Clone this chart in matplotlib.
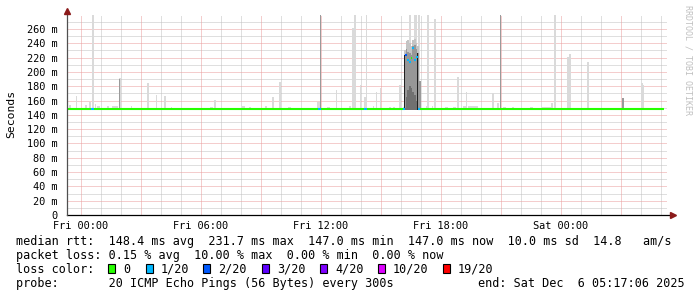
import numpy as np
import matplotlib
matplotlib.use("Agg")
from matplotlib import pyplot as plt
from matplotlib.patches import Rectangle

W, H = 697, 297

# time axis: hours since Fri 00:00, window ends Sat 05:17
t_start, t_end = -0.70, 29.30
tick_hours = [0, 6, 12, 18, 24]
tick_names = ["Fri 00:00", "Fri 06:00", "Fri 12:00", "Fri 18:00", "Sat 00:00"]

# smoke: highest ping per 5 min slot (light gray)
smoke_start = [-0.60, -0.25, 0.20, 0.40, 0.55, 0.70, 0.80, 1.30, 1.55, 1.90, 2.50, 3.30,
               3.75, 4.15, 4.50, 6.45, 6.65, 8.05, 8.40, 9.20, 9.55, 9.90, 10.35, 11.35,
               11.80, 12.30, 12.75, 13.40, 13.55, 13.65, 13.95, 14.15, 14.25, 14.60, 14.75,
               14.95, 15.40, 15.60, 15.90, 16.10, 16.40, 16.65, 16.85, 17.25, 17.30, 17.55,
               17.65, 18.20, 18.60, 18.80, 19.10, 19.25, 19.35, 20.55, 20.80, 21.10, 21.55,
               22.45, 23.05, 23.50, 23.65, 24.30, 24.40, 25.30, 28.00, 28.10]
smoke_end = [-0.50, -0.20, 0.30, 0.50, 0.65, 0.75, 0.95, 1.40, 1.85, 2.00, 2.55, 3.40,
             3.80, 4.25, 4.55, 6.60, 6.75, 8.20, 8.50, 9.30, 9.65, 10.00, 10.50, 11.45,
             11.95, 12.45, 12.80, 13.50, 13.65, 13.75, 14.00, 14.25, 14.30, 14.65, 14.80,
             15.00, 15.50, 15.70, 16.00, 16.15, 16.50, 16.80, 16.95, 17.35, 17.40, 17.60,
             17.75, 18.35, 18.75, 18.90, 19.25, 19.30, 19.85, 20.65, 20.90, 21.25, 21.65,
             22.60, 23.55, 23.60, 23.75, 24.40, 24.50, 25.40, 28.10, 28.15]
smoke_top = [154, 167, 154, 158, 280, 155, 152, 153, 153, 192, 153, 184,
             168, 166, 151, 151, 161, 153, 151, 153, 165, 186, 151, 150,
             158, 151, 175, 153, 261, 280, 182, 165, 280, 153, 172,
             177, 151, 151, 182, 151, 280, 280, 280, 153, 280, 152,
             274, 151, 151, 193, 153, 172, 152, 170, 156, 151, 151,
             151, 151, 157, 280, 221, 225, 214, 184, 182]

# slots where many pings were high (darker smoke)
dense_start = [1.92, 11.95, 16.90, 20.95, 27.05]
dense_end = [1.97, 12.00, 17.00, 21.00, 27.15]
dense_top = [190, 280, 188, 280, 163]

# the slow period Fri ~16:10 - 16:55
burst_t = [16.15, 16.23, 16.32, 16.40, 16.48, 16.57, 16.65, 16.73, 16.82]
burst_max = [230, 243, 245, 240, 236, 244, 246, 240, 236]
burst_hi = [224, 232, 228, 226, 224, 236, 238, 232, 226]
burst_lo = [150, 165, 175, 180, 178, 172, 168, 160, 150]

# median rtt (ms) per segment and loss class index
med_start = [-0.70, 0.50, 0.65, 11.85, 12.00, 14.15, 14.30, 16.10, 16.20, 16.30,
             16.40, 16.48, 16.55, 16.65, 16.75, 16.83, 16.95]
med_end = [0.50, 0.65, 11.85, 12.00, 14.15, 14.30, 16.10, 16.20, 16.30, 16.40,
           16.48, 16.55, 16.65, 16.75, 16.83, 16.95, 29.15]
med_value = [147.5, 147.5, 147.5, 147.5, 147.5, 147.5, 147.5, 147.5, 224, 217,
             214, 219, 233, 217, 221, 147.5, 147.5]
med_loss = [0, 1, 0, 1, 0, 1, 0, 1, 2, 1, 1, 0, 1, 1, 1, 1, 0]

loss_names = ["0", "1/20", "2/20", "3/20", "4/20", "10/20", "19/20"]
loss_colors = ["#26ff00", "#00b8ff", "#0059ff", "#5e00ff", "#7e00ff", "#dd00ff", "#ff0000"]

stats_rtt = "median rtt:  148.4 ms avg  231.7 ms max  147.0 ms min  147.0 ms now  10.0 ms sd  14.8   am/s"
stats_loss = "packet loss: 0.15 % avg  10.00 % max  0.00 % min  0.00 % now"
probe_txt = "probe:       20 ICMP Echo Pings (56 Bytes) every 300s"
end_txt = "end: Sat Dec  6 05:17:06 2025"

plt.rcParams['font.family'] = ['DejaVu Sans Mono']

def fx(px):
    return px / W

def fy(py):
    return 1 - py / H

fig = plt.figure(figsize=(W / 100, H / 100), dpi=100)
ax = fig.add_axes([fx(67), fy(215), 600 / W, 200.3 / H])
ax.set_xlim(t_start, t_end)
ax.set_ylim(0, 280)

# grid, dotted
minor_col = '#c0c0c0'
major_col = '#eb9c9c'
dots = (0, (1, 1))
gkw = dict(lw=0.72, ls=dots, zorder=0)
for h in range(0, 30):
    if h % 3:
        ax.axvline(h, color=minor_col, **gkw)
for v in range(10, 280, 20):
    ax.axhline(v, color=minor_col, **gkw)
for h in range(0, 30, 3):
    ax.axvline(h, color=major_col, **gkw)
for v in range(20, 280, 20):
    ax.axhline(v, color=major_col, **gkw)

# smoke
base = 147.0
ax.bar(smoke_start, np.array(smoke_top) - base, width=np.array(smoke_end) - np.array(smoke_start),
       bottom=base, align='edge', color='#dadada', lw=0, zorder=1)
ax.bar(dense_start, np.array(dense_top) - base, width=np.array(dense_end) - np.array(dense_start),
       bottom=base, align='edge', color='#9a9a9a', lw=0, zorder=2)
bw = 1 / 12
ax.bar(burst_t, np.array(burst_max) - base, width=bw, bottom=base, align='edge',
       color='#c4c4c4', lw=0, zorder=2)
ax.bar(burst_t, np.array(burst_hi) - base, width=bw, bottom=base,
       align='edge', color='#979797', lw=0, zorder=3)
ax.bar(burst_t, np.array(burst_lo) - base, width=bw, bottom=base,
       align='edge', color='#707070', lw=0, zorder=3)
ax.bar([burst_t[0], burst_t[-1]], [burst_hi[0] - base, burst_hi[-1] - base], width=bw * 0.6,
       bottom=base, align='edge', color='#202020', lw=0, zorder=3)

# median line coloured by loss
for s, e, v, l in zip(med_start, med_end, med_value, med_loss):
    ax.hlines(v, s, e, color=loss_colors[l], lw=1.5, zorder=4)

for sp in ax.spines.values():
    sp.set_visible(False)

ax.set_xticks(tick_hours)
ax.set_xticklabels(tick_names)
ax.set_yticks(range(0, 280, 20))
ax.set_yticklabels(["0"] + ["%d m" % v for v in range(20, 280, 20)])
ax.tick_params(axis='both', length=0, labelsize=7.4, colors='#000000')
ax.tick_params(axis='y', pad=6.5)
ax.tick_params(axis='x', pad=4)

# axes with arrows
ax.plot([t_start, t_end + 0.25], [0, 0], color='black', lw=0.9, clip_on=False, zorder=5)
ax.plot([t_start, t_start], [0, 283], color='#505050', lw=0.9, clip_on=False, zorder=5)
ax.plot([t_end + 0.3], [0], marker='>', ms=4, color='#8b1a1a', clip_on=False, zorder=6)
ax.plot([t_start], [285], marker='^', ms=4, color='#8b1a1a', clip_on=False, zorder=6)

fig.text(fx(11), fy(114), "Seconds", rotation=90, ha='center', va='center', fontsize=8.2)
fig.text(fx(688), fy(60), "RRDTOOL / TOBI OETIKER", rotation=270, ha='center', va='center',
         fontsize=6, color='#c0c0c0')

fs = 8.5
fig.text(fx(16), fy(245.3), stats_rtt, fontsize=fs, va='baseline')
fig.text(fx(16), fy(259.3), stats_loss, fontsize=fs, va='baseline')
fig.text(fx(16), fy(272.7), "loss color:", fontsize=fs, va='baseline')
fig.text(fx(16), fy(287), probe_txt, fontsize=fs, va='baseline')
fig.text(fx(478), fy(287), end_txt, fontsize=fs, va='baseline')

box_x = [108.3, 146, 203, 262, 320, 377.7, 442.7]
for bx, name, col in zip(box_x, loss_names, loss_colors):
    fig.patches.append(Rectangle((fx(bx), fy(273.3)), 7 / W, 9 / H, transform=fig.transFigure,
                                 facecolor=col, edgecolor='black', lw=0.8))
    fig.text(fx(bx + 15), fy(272.7), name, fontsize=fs, va='baseline')

fig.savefig("out.png", dpi=100)
